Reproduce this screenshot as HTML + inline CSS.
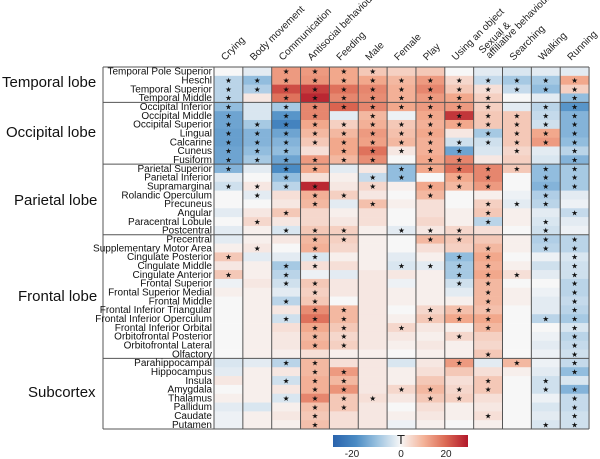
<!DOCTYPE html>
<html><head><meta charset="utf-8">
<style>
html,body{margin:0;padding:0;background:#fff;}
svg{display:block;font-family:"Liberation Sans","DejaVu Sans",sans-serif;}
</style></head>
<body>
<svg id="s" width="600" height="459" viewBox="0 0 600 459" xmlns="http://www.w3.org/2000/svg">
<defs>
<linearGradient id="cb" x1="0" x2="1" y1="0" y2="0">
<stop offset="0" stop-color="#2a63ac"/>
<stop offset="0.17" stop-color="#4a8bc4"/>
<stop offset="0.33" stop-color="#9cc3e0"/>
<stop offset="0.5" stop-color="#f7f7f7"/>
<stop offset="0.67" stop-color="#f4b399"/>
<stop offset="0.83" stop-color="#dc6b55"/>
<stop offset="1" stop-color="#b2182b"/>
</linearGradient>
</defs>
<g id="cells"></g>
<g id="lines"></g>
<g id="labels"></g>
<rect x="333" y="435" width="135" height="12" fill="url(#cb)"/>
<text x="401" y="444" font-size="13" text-anchor="middle" fill="#222">T</text>
<text x="352" y="457" font-size="10" text-anchor="middle" fill="#222">-20</text>
<text x="401" y="457" font-size="10" text-anchor="middle" fill="#222">0</text>
<text x="446" y="457" font-size="10" text-anchor="middle" fill="#222">20</text>
<g font-size="15" fill="#111">
<text x="2" y="87">Temporal lobe</text>
<text x="6" y="137">Occipital lobe</text>
<text x="14" y="205">Parietal lobe</text>
<text x="18" y="301">Frontal lobe</text>
<text x="28" y="397">Subcortex</text>
</g>
</svg>
<script>
var rows=["Temporal Pole Superior","Heschl","Temporal Superior","Temporal Middle","Occipital Inferior","Occipital Middle","Occipital Superior","Lingual","Calcarine","Cuneus","Fusiform","Parietal Superior","Parietal Inferior","Supramarginal","Rolandic Operculum","Precuneus","Angular","Paracentral Lobule","Postcentral","Precentral","Supplementary Motor Area","Cingulate Posterior","Cingulate Middle","Cingulate Anterior","Frontal Superior","Frontal Superior Medial","Frontal Middle","Frontal Inferior Triangular","Frontal Inferior Operculum","Frontal Inferior Orbital","Orbitofrontal Posterior","Orbitofrontal Lateral","Olfactory","Parahippocampal","Hippocampus","Insula","Amygdala","Thalamus","Pallidum","Caudate","Putamen"];
var cols=["Crying","Body movement","Communication","Antisocial behaviour","Feeding","Male","Female","Play","Using an object","","Searching","Walking","Running"];
var D=[
"0,-0.6*,-0.6*,-0.6*,-1*,-1.5*,-1.5*,-1.6*,-1.6*,-1.5*,-1.5*,-1.2*,-0.2,-0.4*,0,0,-0.2,0,-0.2,-0.2,0.1,0.6*,0.2,0.6*,-0.1,0.1,0,0,0,0,0,0,0,-0.3,-0.2,0.2,0,0.1,-0.2,-0.1,-0.1",
"-0.2,-1*,-0.7*,0.2,-0.3,-0.3,-0.8*,-1.2*,-1.2*,-1*,-0.8*,-0.2,0,0.2*,-0.2*,0,0.2,0.4*,0.1,0.1,0.2*,-0.2,0.1,0.1,0.2,0.1,0.1,0.1,0.1,0.1,0.1,0.1,0.1,-0.2,0.1,0.1,0.1,0.1,-0.3,0.1,0.1",
"1.2*,1.2*,2.3*,1.8*,-0.8*,-1.8*,-2.2*,-1.5*,-1.2*,-1*,-1.5*,-2*,-1*,-0.6*,0.3,0.2,0.6*,0.2,-0.3*,0.2,0,-0.2,-0.8*,-0.6*,-0.4*,-0.2,-0.6*,0.2,-0.4*,0.3,0.2,0.2,0.1,-0.6*,0.2,-0.4*,0.2,-0.3*,0.1,0.2,0.1",
"1.2*,1.3*,2.5*,2.8*,1.5*,1.5*,1*,0.8*,0.6*,0.3,1.2*,1*,0.3,2.8*,0.9*,0.8*,0.4,0.4,0.6*,0.8*,0.9*,-0.3*,0.3*,-0.1,0.6*,0.5*,0.6*,1.4*,1.8*,1*,0.8*,0.9*,0.3,0.8*,0.8*,0.9*,0.9*,1.5*,0.7*,0.6*,0.7*",
"1*,1*,1.8*,1.5*,2*,-0.2,0.5*,0.8*,1*,1*,0.8*,-0.2,0.1,0.2,0.5*,-0.2,0.1,0.2,0.5*,0.5*,0.4,0.1,0.3,-0.2,0.2,0.2,0,0.8*,0.8*,0.6*,0.4*,0.5*,0.1,0.3,1.2*,0.8*,1.3*,0.6*,0.6*,0.3,0.3",
"0.6*,1*,1.5*,1.4*,1.5*,0.8*,0.9*,1.2*,1.1*,1.8*,1.4*,0.2,-0.5*,0.4*,0.2,0.7*,0.3,0.3,0.1,0.1,0.1,0.1,0.1,0.2,0.2,0.2,0.2,0.2,0.2,0.2,0.2,0.2,0.1,0.2,0.2,0.2,0.2,0.3*,0.2,0.2,0.2",
"0.5,0.8*,0.9*,0.9*,1*,-0.1,0.6*,0.7*,0.8*,0.2*,0,-1*,-1*,0.1,0,0.1,0,0,-0.2*,0,0,-0.2,-0.3*,0.2,-0.1,0.1,0.1,0,0.1,0.4*,0.2,0.1,0,-0.3,0.1,0.1,0.4*,0.2,0,0.1,-0.1",
"0.6,1.2*,1.5*,1.2*,1.2*,1*,0.9*,1*,0.9*,0.9*,1*,1*,0,1*,0.8*,0.3,0.3,0.4,0.2*,0.8*,0.3,0.1,-0.2*,0.1,0.1,0.1,0.1,0.4*,0.6*,0.2,0.1,0.2,0.1,0.2,0.3,0.6,0.8*,0.6*,0.3,0.2,0.1",
"0,0.4*,0.6*,1*,1.2*,2.6*,1*,0.2,-0.4*,-1.5*,1.5*,1.8*,1*,0.8*,0,0,0.1,0.1,0.4*,0.6*,0.5,-1*,-0.8*,-0.8*,-0.4*,-0.2,0.1,0.7*,1*,0.1,0.4*,0.1,0.1,1.2*,0.6,0.3,0.4*,0.5*,0.1,0.1,0",
"-0.2,-0.5*,0.3*,0.5*,0.5*,0.6*,0.6*,-0.8*,-0.4*,-0.3,0.2,1.5*,1.5*,1.2*,0.1,0.5*,0.6*,-0.6*,0.3,0.6,0.8*,1*,0.9*,1*,0.8*,0.8*,0.8*,0.7*,1*,0.8*,0.5,0.4,0.6*,-0.2,0.3,0.6*,0.6*,0.3,0.2,0.3*,0.1",
"-0.3,-0.8*,-0.5*,0,-0.2,0.6*,0.6*,0.6*,0.6*,0.4*,0.5,0.6*,0,0,-0.1,-0.2*,0.1,0.1,0,0.1,0.1,0,0.1,0.3*,0,0.1,0.1,0,0,0,0,0,0,0.8*,0.1,0,0,0,0,0,0",
"-0.2,-0.8*,-1*,-0.2,-0.6*,-0.5*,-0.4*,1*,1.2*,-0.2,-0.3,-1*,-1*,-1.2*,-0.7*,-0.6*,-0.2,-0.3*,-0.4*,-0.7*,-0.6*,-0.1,-0.4,-0.2,0,-0.1,-0.2,-0.2,-0.6*,0,-0.1,-0.2,-0.1,-0.1,-0.2,-0.4*,-0.4*,-0.1,-0.3,-0.2,-0.3*",
"-0.2,1*,0.5*,-1*,-1.8*,-1.2*,-1.2*,-1.2*,-1*,-0.6*,-1.2*,-0.8*,-0.8*,-0.8*,-0.2,-0.1,-0.5*,-0.2,-0.1,-0.6*,-0.6*,-0.3*,-0.4*,-0.4*,-0.6*,-0.6*,-0.5*,-0.6*,-0.8*,-0.3*,-0.6*,-0.5*,-0.4*,-0.5*,-1*,-0.3,-1.2*,-0.5*,-0.5*,-0.4*,-0.4*"
];
var stops=[[-3,[42,99,172]],[-2,[74,139,196]],[-1,[146,189,222]],[0,[247,247,247]],[1,[242,168,140]],[2,[218,100,80]],[3,[178,24,43]]];
function col(v){v=Math.max(-3,Math.min(3,v));for(var i=0;i<stops.length-1;i++){var a=stops[i],b=stops[i+1];if(v<=b[0]){var t=(v-a[0])/(b[0]-a[0]);return "rgb("+[0,1,2].map(function(k){return Math.round(a[1][k]+(b[1][k]-a[1][k])*t)}).join(",")+")";}}return "#b2182b";}
var X0=214,CW=28.85,Y0=67,RH=8.83,NS="http://www.w3.org/2000/svg";
var cells=document.getElementById("cells"),lines=document.getElementById("lines"),labels=document.getElementById("labels");
function el(tag,at,txt,p){var e=document.createElementNS(NS,tag);for(var k in at)e.setAttribute(k,at[k]);if(txt!=null)e.textContent=txt;p.appendChild(e);return e;}
D.forEach(function(s,c){s.split(",").forEach(function(tok,r){var st=tok.indexOf("*")>=0;var v=parseFloat(tok);
var x=X0+c*CW,y=Y0+r*RH;
el("rect",{x:x.toFixed(2),y:y.toFixed(2),width:(CW+0.3).toFixed(2),height:(RH+0.3).toFixed(2),fill:col(v)},null,cells);
if(st)el("text",{x:(x+CW/2).toFixed(2),y:(y+RH/2+2.8).toFixed(2),"font-size":"7.5","text-anchor":"middle",fill:"#111","font-family":"DejaVu Sans"},"★",cells);
});});
rows.forEach(function(n,r){el("text",{x:212,y:(Y0+r*RH+7.7).toFixed(2),"font-size":"10","text-anchor":"end",fill:"#111"},n,labels);});
var Y1=Y0+41*RH;
for(var c=0;c<=13;c++){var x=(X0+c*CW).toFixed(2);el("line",{x1:x,x2:x,y1:Y0,y2:Y1,stroke:"#555","stroke-width":"1"},null,lines);}
el("line",{x1:103,x2:103,y1:Y0,y2:Y1,stroke:"#555","stroke-width":"1"},null,lines);
[0,4,11,19,33,41].forEach(function(r){var y=(Y0+r*RH).toFixed(2);el("line",{x1:103,x2:589,y1:y,y2:y,stroke:"#555","stroke-width":"1"},null,lines);});
cols.forEach(function(n,c){if(!n)return;var x=X0+c*CW+11,y=61;el("text",{x:x,y:y,"font-size":"10",fill:"#222",transform:"rotate(-45 "+x+" "+y+")"},n,labels);});
var x9=X0+9*CW+9,y9=54;el("text",{x:x9,y:y9,"font-size":"10",fill:"#222",transform:"rotate(-45 "+x9+" "+y9+")"},"Sexual &",labels);
var x9b=X0+9*CW+16,y9b=59;el("text",{x:x9b,y:y9b,"font-size":"10",fill:"#222",transform:"rotate(-45 "+x9b+" "+y9b+")"},"affiliative behaviour",labels);
</script>
</body></html>
